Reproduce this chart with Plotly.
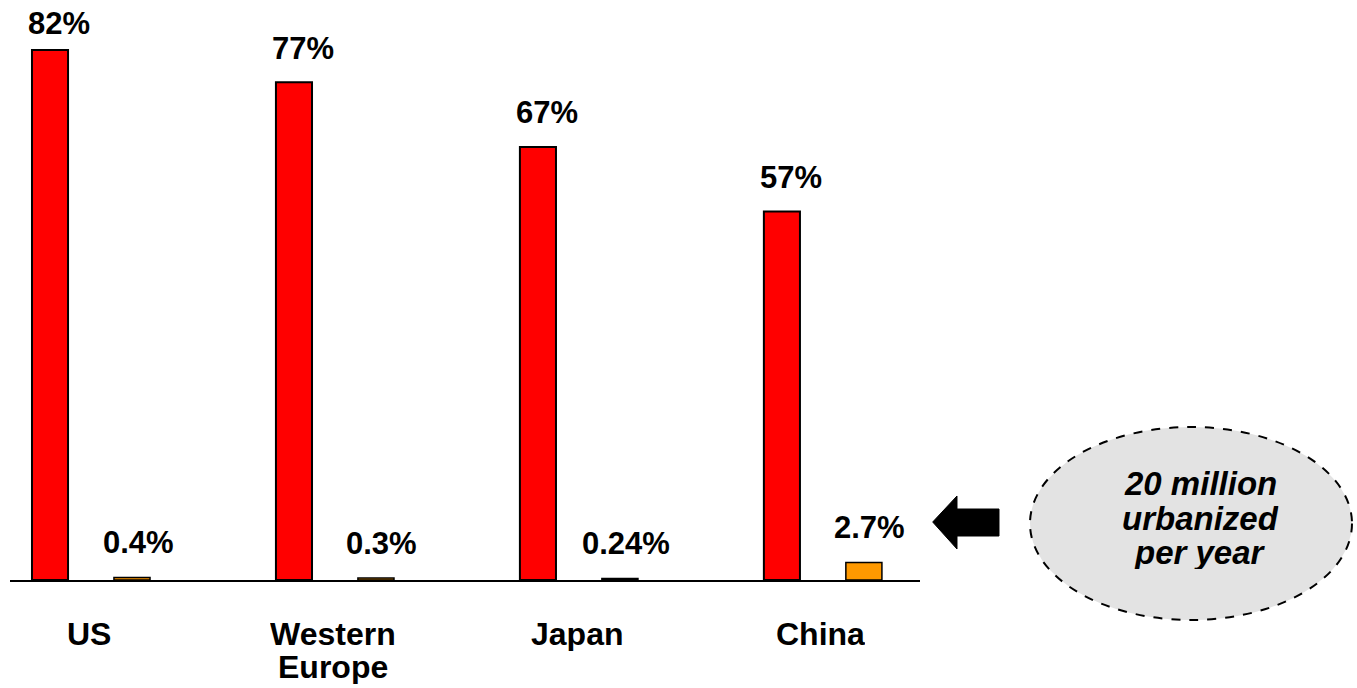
import plotly.graph_objects as go

categories = ["US", "Western<br>Europe", "Japan", "China"]
urbanization = [82, 77, 67, 57]
growth = [0.4, 0.3, 0.24, 2.7]
urban_labels = ["82%", "77%", "67%", "57%"]
growth_labels = ["0.4%", "0.3%", "0.24%", "2.7%"]
callout_lines = ["20 million", "urbanized", "per year"]

W, H = 1357, 688
ML, MB, MT = 10, 108, 0
PLOT_W = 910
PLOT_H = H - MB - MT
SCALE = 6.463  # pixels per percentage point
xs = list(range(len(categories)))
FONT = "Liberation Sans, Arial, Helvetica, sans-serif"


def px(x):
    return (x - ML) / (W - ML)


def py(y):
    return (H - MB - y) / PLOT_H


fig = go.Figure()
fig.add_trace(go.Bar(x=xs, y=urbanization, marker=dict(color="#FF0000", line=dict(color="black", width=2)),
                     hoverinfo="skip"))
fig.add_trace(go.Bar(x=xs, y=growth, marker=dict(color="#FF9900", line=dict(color="black", width=1.5)),
                     hoverinfo="skip"))

ann = []
for i, (v, t) in enumerate(zip(urbanization, urban_labels)):
    top_px = PLOT_H - v * SCALE
    ann.append(dict(x=xs[i], y=v, text=t, showarrow=False, xshift=-32, yshift=min(34, top_px - 24),
                    yanchor="middle",
                    font=dict(family=FONT, size=31, color="black", weight="bold")))
for i, (v, t) in enumerate(zip(growth, growth_labels)):
    ann.append(dict(x=xs[i], y=v, text=t, showarrow=False, xshift=47, yshift=35, yanchor="middle",
                    font=dict(family=FONT, size=31, color="black", weight="bold")))
for i, c in enumerate(categories):
    for j, part in enumerate(c.split("<br>")):
        ann.append(dict(x=xs[i], y=0, text=part, showarrow=False, yanchor="top", yshift=-35 - 33 * j,
                        xshift=-2, height=34,
                        font=dict(family=FONT, size=32, color="black", weight="bold")))

line_y = [483, 518, 552]
for t, yy in zip(callout_lines, line_y):
    ann.append(dict(xref="paper", yref="paper", x=px(1200), y=py(yy), text=t, showarrow=False,
                    xanchor="center", yanchor="middle", height=34,
                    font=dict(family=FONT, size=33, color="black", weight="bold", style="italic")))

arrow_pts = [(932.7, 522), (957, 496), (957, 509), (999, 509), (999, 536), (957, 536), (957, 549)]
path = "M " + " L ".join(f"{px(a):.5f},{py(b):.5f}" for a, b in arrow_pts) + " Z"

shapes = [
    dict(type="circle", xref="paper", yref="paper", x0=px(1030), x1=px(1352), y0=py(620), y1=py(427),
         fillcolor="#E3E3E3", line=dict(color="black", width=2, dash="dash"), layer="below"),
    dict(type="path", xref="paper", yref="paper", path=path, fillcolor="black", line=dict(color="black", width=1)),
]

fig.update_layout(
    width=W, height=H,
    margin=dict(l=ML, r=0, t=MT, b=MB, pad=0),
    paper_bgcolor="white", plot_bgcolor="white",
    barmode="group", bargap=0.328, bargroupgap=0.56,
    showlegend=False,
    annotations=ann, shapes=shapes,
    xaxis=dict(domain=[0, PLOT_W / (W - ML)], range=[-0.332, 3.398], showline=True, linecolor="black",
               linewidth=2, showticklabels=False, ticks="", showgrid=False, zeroline=False, fixedrange=True),
    yaxis=dict(range=[0, PLOT_H / SCALE], visible=False, showgrid=False, zeroline=False, fixedrange=True),
)

fig.write_html("out.html", config={"displayModeBar": False},
               post_script="document.body.style.margin='0px';document.body.style.overflow='hidden';")
